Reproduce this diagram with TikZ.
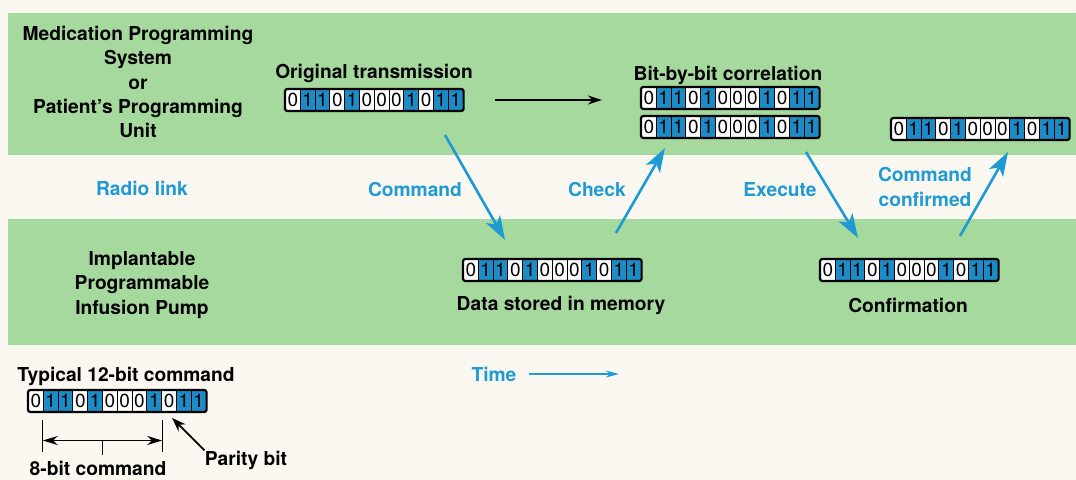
\documentclass[tikz,border=0pt]{standalone}
\usepackage{fontspec}
\setmainfont{TeX Gyre Heros}
\usetikzlibrary{positioning,arrows.meta,fit,calc}
\definecolor{paperC}{HTML}{FBF8F1}
\definecolor{bandC}{HTML}{A6D99D}
\definecolor{bitC}{HTML}{1D8BC6}
\definecolor{linkC}{HTML}{1F9AD3}
% one 12-bit word, cells named <name>-1 ... <name>-12, frame named <name>
\newcommand{\bitword}[3]{%
  \foreach \b [count=\i] in {0,1,1,0,1,0,0,0,1,0,1,1}{
    \ifnum\b=1 \def\bitfill{bitC}\else\def\bitfill{white}\fi
    \node[bitcell, fill=\bitfill, xshift={(\i-1)*7.4pt}] (#1-\i) at (#2,#3) {\b};
  }
  \node[wordframe, fit=(#1-1)(#1-12)] (#1) {};
}
\tikzset{
  bitcell/.style={draw, line width=0.5pt, anchor=west, minimum width=7.4pt,
                  minimum height=10.5pt, inner sep=0pt, font=\fontsize{9.5}{10}\selectfont},
  wordframe/.style={draw, line width=1.1pt, rounded corners=1.2pt, inner sep=0pt},
  head/.style={font=\bfseries\fontsize{9.6}{12.1}\selectfont, align=center, inner sep=0pt},
  link/.style={head, text=linkC},
  radio/.style={-{Stealth[length=12pt,width=8pt,inset=3pt]}, draw=linkC, line width=1.3pt},
  flow/.style={-{Stealth[length=7pt,width=4.5pt]}, line width=1pt},
  clock/.style={-{Stealth[length=6.5pt,width=3.5pt]}, draw=linkC, line width=0.7pt},
  pointer/.style={-{Stealth[length=7pt,width=5pt]}, line width=0.9pt},
  dim/.style={{Stealth[length=7.5pt,width=4.5pt]}-{Stealth[length=7.5pt,width=4.5pt]}, line width=0.6pt},
  tick/.style={line width=0.6pt},
}
\begin{document}
\begin{tikzpicture}[x=0.5pt, y=-0.5pt]
\useasboundingbox (0,0) rectangle (1076,480);
\fill[paperC] (0,0) rectangle (1076,480);
% programmer band and pump band
\fill[bandC] (8,13) rectangle (1076,155);
\fill[bandC] (8,219) rectangle (1076,345);

\node[head] (sys) at (138,82) {Medication Programming\\System\\or\\Patient’s Programming\\Unit};
\node[head] (pump) at (142,285) {Implantable\\Programmable\\Infusion Pump};
\node[link] (radio) at (142,188) {Radio link};

\bitword{orig}{285}{100}
\bitword{corrA}{641}{98}
\bitword{corrB}{641}{127}
\bitword{done}{891}{129}
\bitword{mem}{463}{270}
\bitword{conf}{820}{270}
\bitword{typ}{28}{401}

\node[head] (origL) at (374,73) {Original transmission};
\node[head] (corrL) at (728,75) {Bit-by-bit correlation};
\node[head] (memL) at (561,305) {Data stored in memory};
\node[head] (confL) at (908,305) {Confirmation};

\draw[flow] ([xshift=15pt]orig.east) -- ([xshift=-19pt]orig.east -| corrA.west);

% radio traffic
\node[link] (cmdL) at (415,190) {Command};
\node[link] (chkL) at (597,190) {Check};
\node[link] (exeL) at (780,190) {Execute};
\node[link] (cnfL) at (925,187) {Command\\confirmed};
\coordinate (cmdS) at (445,135);
\coordinate (cmdE) at (505,240);
\coordinate (chkS) at (616,233);
\coordinate (chkE) at (665,148);
\coordinate (exeS) at (806,152);
\coordinate (exeE) at (858,238);
\coordinate (cnfS) at (960,236);
\coordinate (cnfE) at (1008,152);
\draw[radio] (cmdS) -- (cmdE);
\draw[radio] (chkS) -- (chkE);
\draw[radio] (exeS) -- (exeE);
\draw[radio] (cnfS) -- (cnfE);

\node[link] (time) at (494,374) {Time};
\draw[clock] ([xshift=6pt]time.east) -- ++(90,0);

% key to the 12-bit word
\node[head] (typL) at (126,376) {Typical 12-bit command};
\coordinate (eightL) at ([yshift=-14.25pt]typ-2.south west);
\coordinate (eightR) at ([yshift=-14.25pt]typ-9.south east);
\draw[tick] ([yshift=-4.25pt]typ-2.south west) -- ([yshift=-20.25pt]typ-2.south west);
\draw[tick] ([yshift=-4.25pt]typ-9.south east) -- ([yshift=-20.25pt]typ-9.south east);
\draw[dim] (eightL) -- (eightR);
\draw[tick] ($(eightL)!0.5!(eightR)$) -- ++(0,15);
\node[head] (eight) at (98,468) {8-bit command};
\node[head] (parity) at (246,460) {Parity bit};
\draw[pointer] (parity.north west) -- ([xshift=1.5pt,yshift=-3pt]typ-10.south);
\end{tikzpicture}
\end{document}
